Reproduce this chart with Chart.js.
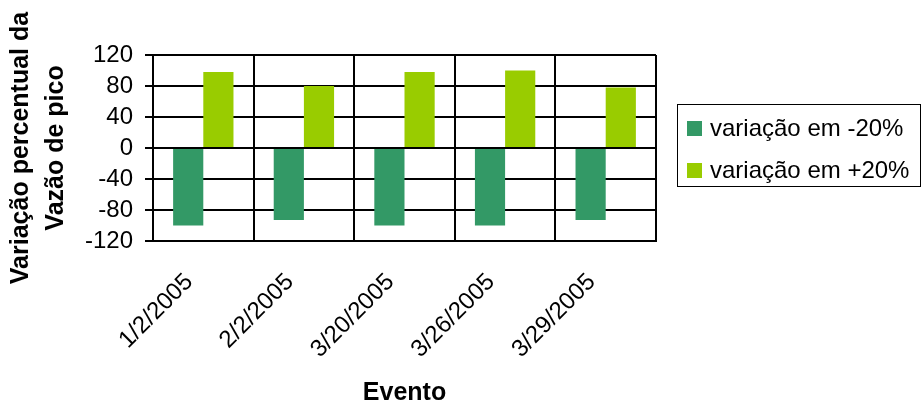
<!DOCTYPE html>
<html>
<head>
<meta charset="utf-8">
<script src="https://cdn.jsdelivr.net/npm/chart.js@4/dist/chart.umd.min.js"></script>
<style>
    html, body { margin: 0; padding: 0; background: #fff; }
    #wrap { position: relative; width: 923px; height: 406px; }
    #legend {
        position: absolute; left: 677px; top: 104px; width: 244px; height: 83px;
        border: 1px solid #000; box-sizing: border-box;
        font-family: "Liberation Sans", Arial, sans-serif; font-size: 24px; color: #000;
    }
    .item { position: absolute; left: 9px; display: flex; align-items: center; white-space: nowrap; }
    .swatch { width: 15px; height: 15px; margin-right: 8px; }
</style>
</head>
<body>
<div id="wrap">
    <canvas id="chart" width="923" height="406"></canvas>
    <div id="legend"></div>
</div>
<script>
/* Values */
const EVENTS = ["1/2/2005", "2/2/2005", "3/20/2005", "3/26/2005", "3/29/2005"];
const MINUS_20 = [-100, -93, -100, -100, -93];
const PLUS_20 = [98, 80, 98, 100, 78];
const SERIES_NAMES = ["variação em -20%", "variação em +20%"];
const Y_TICKS = [-120, -80, -40, 0, 40, 80, 120];

const COLORS = {
    minus: "#339966",
    plus: "#99cc00",
    grid: "#000",
};

const FONT = "'Liberation Sans', Arial, sans-serif";

const chart = new Chart(document.getElementById("chart"), {
    type: "bar",
    data: {
        labels: EVENTS,
        datasets: [
            { label: SERIES_NAMES[0], data: MINUS_20, backgroundColor: COLORS.minus },
            { label: SERIES_NAMES[1], data: PLUS_20, backgroundColor: COLORS.plus },
        ],
    },
    options: {
        responsive: false,
        animation: false,
        layout: { padding: { top: 55, right: 267, left: 0, bottom: 0 } },
        datasets: { bar: { categoryPercentage: 0.6, barPercentage: 1.0 } },
        plugins: { legend: { display: false }, tooltip: { enabled: false } },
        scales: {
            x: {
                offset: true,
                grid: { offset: true, color: COLORS.grid, lineWidth: 2, drawTicks: false },
                border: { color: COLORS.grid, width: 2 },
                ticks: {
                    color: "#000",
                    font: { family: FONT, size: 24 },
                    minRotation: 45,
                    maxRotation: 45,
                    autoSkip: false,
                    padding: 27,
                    labelOffset: -14,
                },
                title: {
                    display: true,
                    text: "Evento",
                    color: "#000",
                    font: { family: FONT, size: 25, weight: "bold", lineHeight: 1 },
                    padding: 0,
                },
                afterFit: (scale) => { scale.height = 165; },
            },
            y: {
                min: -120,
                max: 120,
                afterBuildTicks: (scale) => { scale.ticks = Y_TICKS.map(v => ({ value: v })); },
                grid: { color: COLORS.grid, lineWidth: 2, tickLength: 8 },
                border: { color: COLORS.grid, width: 2 },
                ticks: {
                    color: "#000",
                    font: { family: FONT, size: 24 },
                    autoSkip: false,
                    padding: 12,
                },
                title: {
                    display: true,
                    text: ["Variação percentual da", "Vazão de pico"],
                    color: "#000",
                    font: { family: FONT, size: 25, weight: "bold", lineHeight: 1.4 },
                    padding: { top: 4, bottom: 0 },
                },
                afterFit: (scale) => { scale.width = 153; },
            },
        },
    },
});

/* Legend boxed at the right, built from the chart's datasets */
const legend = document.getElementById("legend");
chart.data.datasets.forEach((ds, i) => {
    const item = document.createElement("div");
    item.className = "item";
    item.style.top = (i === 0 ? 9 : 51) + "px";
    item.innerHTML = `<span class="swatch" style="background:${ds.backgroundColor}"></span><span>${ds.label}</span>`;
    legend.appendChild(item);
});
</script>
</body>
</html>
